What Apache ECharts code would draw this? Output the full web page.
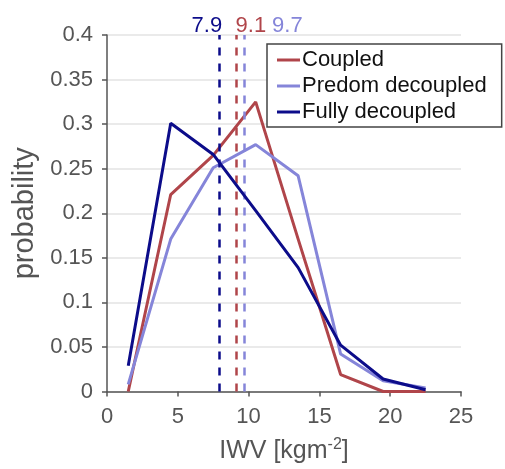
<!DOCTYPE html>
<html><head><meta charset="utf-8">
<script src="https://cdn.jsdelivr.net/npm/echarts@6/dist/echarts.min.js"></script>
<style>html,body{margin:0;padding:0;background:#fff}#c{width:505px;height:469px}</style>
</head><body><div id="c"></div>
<script>
var binCenters = [1.5, 4.5, 7.5, 10.5, 13.5, 16.5, 19.5, 22.5];
var coupled = [0.0, 0.221, 0.265, 0.325, 0.171, 0.019, 0.0, 0.0];
var predom = [0.008, 0.171, 0.251, 0.277, 0.242, 0.042, 0.012, 0.004];
var fully = [0.029, 0.301, 0.266, 0.203, 0.139, 0.052, 0.014, 0.002];
var seriesNames = ['Coupled', 'Predom decoupled', 'Fully decoupled'];
var means = [9.1, 9.7, 7.9];
var xTicks = [0, 5, 10, 15, 20, 25];
var yTicks = [0, 0.05, 0.1, 0.15, 0.2, 0.25, 0.3, 0.35, 0.4];

var colors = ['#b0454a', '#8585d9', '#0c0c8a'];
var labelOffsets = [15, 43, -12];
var seriesData = [coupled, predom, fully];
var FONT = 'Liberation Sans, Arial, sans-serif';

var chart = echarts.init(document.getElementById('c'));
var series = seriesData.map(function (vals, i) {
  return {
    name: seriesNames[i],
    type: 'line',
    data: binCenters.map(function (x, j) { return [x, vals[j]]; }),
    symbol: 'none',
    lineStyle: { color: colors[i], width: 3 },
    itemStyle: { color: colors[i] },
    z: 3 + i,
    markLine: {
      silent: true,
      symbol: 'none',
      data: [{ xAxis: means[i] }],
      lineStyle: { color: colors[i], width: 2.5, type: [8, 8] },
      label: {
        show: true, position: 'end', distance: 2,
        formatter: String(means[i]),
        color: colors[i], fontSize: 22, fontFamily: FONT,
        offset: [labelOffsets[i], 4]
      }
    }
  };
});

chart.setOption({
  animation: false,
  textStyle: { fontFamily: FONT },
  grid: { left: 107, right: 44, top: 35, bottom: 76 },
  legend: {
    orient: 'vertical', left: 267, top: 44,
    data: seriesNames.map(function (n, i) { return { name: n, icon: 'rect', itemStyle: { color: colors[i] } }; }),
    itemWidth: 23, itemHeight: 3, itemGap: 4,
    padding: [5, 15, 4, 10],
    borderColor: '#444', borderWidth: 1.5,
    backgroundColor: '#fff',
    textStyle: { fontSize: 22, lineHeight: 22, color: '#111', fontFamily: FONT, padding: [0, 0, 0, -3] }
  },
  xAxis: {
    type: 'value', min: xTicks[0], max: xTicks[xTicks.length - 1], interval: 5,
    name: '{a|IWV [kgm}{s|-2}{a|]}',
    nameLocation: 'middle', nameGap: 45,
    nameTextStyle: {
      rich: {
        a: { fontSize: 25, color: '#555', fontFamily: FONT, lineHeight: 30 },
        s: { fontSize: 16, color: '#555', fontFamily: FONT, verticalAlign: 'top', lineHeight: 30 }
      }
    },
    axisLine: { show: true, onZero: false, lineStyle: { color: '#555', width: 1.5 } },
    axisTick: { show: true, length: 5, lineStyle: { color: '#555', width: 1.5 } },
    axisLabel: { fontSize: 22, color: '#555', margin: 14 },
    splitLine: { show: false }
  },
  yAxis: {
    type: 'value', min: yTicks[0], max: yTicks[yTicks.length - 1], interval: 0.05,
    name: 'probability', nameLocation: 'middle', nameGap: 60,
    nameTextStyle: { fontSize: 29, color: '#555', fontFamily: FONT },
    axisLine: { show: true, lineStyle: { color: '#555', width: 1.5 } },
    axisTick: { show: true, length: 5, lineStyle: { color: '#555', width: 1.5 } },
    axisLabel: { fontSize: 22, color: '#555', margin: 14, formatter: function (v) { return String(+v.toFixed(2)); } },
    splitLine: { show: true, lineStyle: { color: '#e3e3e3', width: 1.5 } }
  },
  series: series
});
</script></body></html>
